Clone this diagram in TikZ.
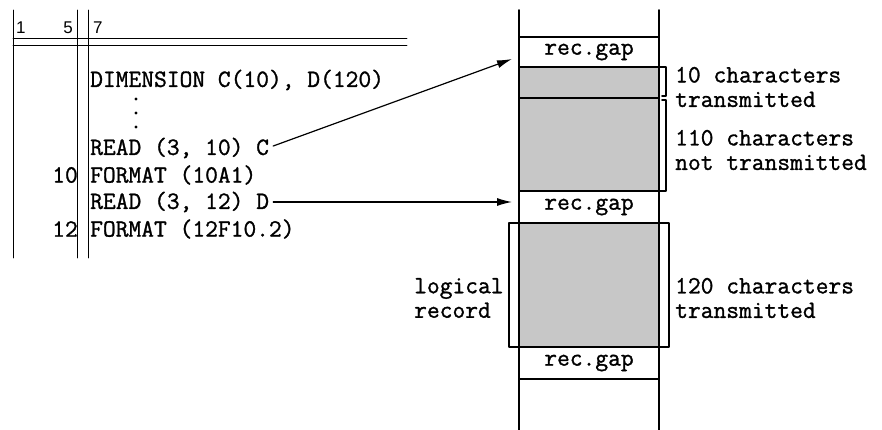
\documentclass[tikz,border=0pt]{standalone}
\usepackage{fontspec}
\setmonofont{Latin Modern Mono}[FakeBold=1.2]
\setsansfont{Liberation Sans}
\usetikzlibrary{arrows.meta}

\begin{document}
\begin{tikzpicture}[x=1pt,y=-1pt,font=\fontsize{24.8}{27}\selectfont\ttfamily,
  >={Latex[length=15pt,width=8pt]},line cap=round,line join=round,
  code/.style={anchor=west,inner sep=0pt},
  colno/.style={font=\fontsize{17}{18}\selectfont\sffamily,inner sep=0pt},
  note/.style={anchor=west,align=left,inner sep=0pt,
    font=\fontsize{24.8}{24.5}\selectfont\ttfamily},
  tape/.style={line width=1.6pt},
  rule/.style={line width=.9pt},
  ptr/.style={->,line width=1.2pt}]
  \useasboundingbox (0,0) rectangle (882,430);

  % coding form
  \draw[rule] (13,10)--(13,258) (77,10)--(77,258) (88,10)--(88,258);
  \draw[rule] (13,38)--(407,38) (13,45)--(407,45);
  \node[colno,anchor=south west] (c1) at (16,34) {1};
  \node[colno,anchor=south east] (c5) at (73,34) {5};
  \node[colno,anchor=south west] (c7) at (93,34) {7};

  \node[code] (dim) at (90,80) {DIMENSION C(10), D(120)};
  \foreach \y in {99,113,127} \fill (136,\y) circle (1.7pt);
  \node[code] (readc) at (90,148) {READ (3, 10) C};
  \node[code] (fmta) at (90,175) {FORMAT (10A1)};
  \node[code,anchor=east] (lab10) at (78,175) {10};
  \node[code] (readd) at (90,202) {READ (3, 12) D};
  \node[code] (fmtb) at (90,229) {FORMAT (12F10.2)};
  \node[code,anchor=east] (lab12) at (78,229) {12};

  % tape
  \fill[black!22] (519,67) rectangle (659,191);
  \fill[black!22] (519,223) rectangle (659,347);
  \draw[tape] (519,10)--(519,430) (659,10)--(659,430);
  \foreach \y in {37,67,98,191,223,347,379} \draw[tape] (519,\y)--(659,\y);
  \node[inner sep=0pt] (gap1) at (589,52) {rec.gap};
  \node[inner sep=0pt] (gap2) at (589,207) {rec.gap};
  \node[inner sep=0pt] (gap3) at (589,363) {rec.gap};

  \draw[tape] (659,67)--(666,67)--(666,96)--(662,96);
  \draw[tape] (662,100)--(666,100)--(666,191)--(659,191);
  \draw[tape] (519,223)--(509,223)--(509,347)--(519,347);
  \draw[tape] (659,223)--(669,223)--(669,347)--(659,347);

  \node[note] (txt10) at (675,87) {10 characters\\transmitted};
  \node[note] (txt110) at (675,150) {110 characters\\not transmitted};
  \node[note] (txt120) at (675,298) {120 characters\\transmitted};
  \node[note] (logrec) at (414,298) {logical\\record};

  \coordinate (tipc) at (512,59);
  \coordinate (tipd) at (512,202);
  \draw[ptr] (readc.east)++(4,-2) coordinate (fromc) -- (tipc);
  \draw[ptr] (readd.east)++(4,0) coordinate (fromd) -- (tipd);
\end{tikzpicture}
\end{document}
